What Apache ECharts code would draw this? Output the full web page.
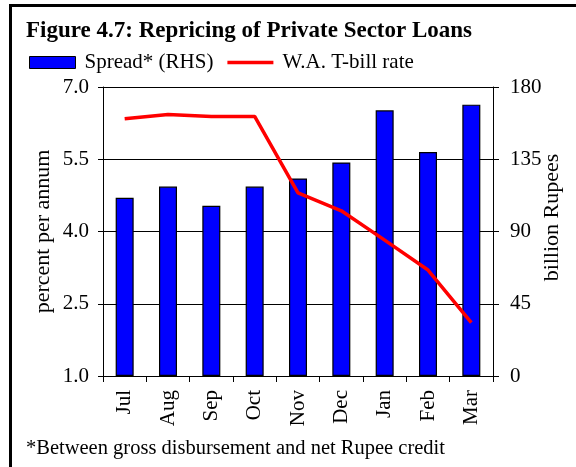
<!DOCTYPE html>
<html>
<head>
<meta charset="utf-8">
<script src="https://cdn.jsdelivr.net/npm/echarts@6/dist/echarts.min.js"></script>
<style>
  html, body { margin: 0; padding: 0; background: #fff; }
  #chart { width: 576px; height: 467px; }
</style>
</head>
<body>
<div id="chart"></div>
<script>
// Months of the fiscal year
const months = ['Jul', 'Aug', 'Sep', 'Oct', 'Nov', 'Dec', 'Jan', 'Feb', 'Mar'];
// Spread between gross disbursement and net Rupee credit (billion Rupees, RHS)
const spread = [111, 118, 106, 118, 123, 133, 165.5, 139.5, 169];
// Weighted average T-bill rate (percent per annum, LHS)
const tbillRate = [6.34, 6.43, 6.39, 6.39, 4.80, 4.43, 3.82, 3.20, 2.11];

const serif = '"Liberation Serif", "Times New Roman", serif';

const chart = echarts.init(document.getElementById('chart'), null, { renderer: 'canvas' });

chart.setOption({
  animation: false,
  backgroundColor: '#fff',
  textStyle: { fontFamily: serif, color: '#000' },
  title: {
    text: 'Figure 4.7: Repricing of Private Sector Loans',
    left: 26,
    top: 20,
    padding: 0,
    textStyle: { fontFamily: serif, fontWeight: 'bold', fontSize: 23, color: '#000' }
  },
  legend: {
    left: 29,
    top: 52,
    padding: 0,
    itemWidth: 46,
    itemHeight: 12,
    itemGap: 14,
    textStyle: { fontFamily: serif, fontSize: 21, color: '#000', padding: [0, 0, 0, 4] },
    data: [
      { name: 'Spread* (RHS)', icon: 'rect',
        itemStyle: { color: '#0000ff', borderColor: '#000', borderWidth: 1 } },
      { name: 'W.A. T-bill rate', icon: 'path://M0,0H50V4H0Z',
        itemStyle: { color: '#ff0000', borderWidth: 0 } }
    ]
  },
  grid: { left: 103, right: 83, top: 87, bottom: 91, containLabel: false, outerBoundsMode: 'none' },
  xAxis: {
    type: 'category',
    data: months,
    boundaryGap: true,
    axisLine: { lineStyle: { color: '#000', width: 1 } },
    axisTick: { show: true, inside: false, length: 6, alignWithLabel: false, lineStyle: { color: '#000' } },
    axisLabel: { rotate: 90, margin: 14, fontFamily: serif, fontSize: 21, color: '#000', interval: 0 }
  },
  yAxis: [
    {
      type: 'value',
      position: 'left',
      min: 1,
      max: 7,
      interval: 1.5,
      name: 'percent per annum',
      nameLocation: 'middle',
      nameRotate: 90,
      nameGap: 49,
      nameMoveOverlap: false,
      nameTextStyle: { fontFamily: serif, fontSize: 22, color: '#000' },
      axisLine: { show: true, lineStyle: { color: '#000', width: 1 } },
      axisTick: { show: true, inside: false, length: 5, lineStyle: { color: '#000' } },
      axisLabel: { margin: 14, fontFamily: serif, fontSize: 21, color: '#000',
                   formatter: v => v.toFixed(1) },
      splitLine: { show: true, lineStyle: { color: '#000', width: 1 } }
    },
    {
      type: 'value',
      position: 'right',
      min: 0,
      max: 180,
      interval: 45,
      name: 'billion Rupees',
      nameLocation: 'middle',
      nameRotate: 90,
      nameGap: 48,
      nameMoveOverlap: false,
      nameTextStyle: { fontFamily: serif, fontSize: 22, color: '#000', padding: [0, 0, 0, 28] },
      axisLine: { show: true, lineStyle: { color: '#000', width: 1 } },
      axisTick: { show: true, inside: false, length: 6, lineStyle: { color: '#000' } },
      axisLabel: { margin: 17, fontFamily: serif, fontSize: 21, color: '#000' },
      splitLine: { show: false }
    }
  ],
  series: [
    {
      name: 'Spread* (RHS)',
      type: 'bar',
      yAxisIndex: 1,
      data: spread,
      barWidth: 18,
      itemStyle: { color: '#0000ff', borderColor: '#000', borderWidth: 1.2 }
    },
    {
      name: 'W.A. T-bill rate',
      type: 'line',
      yAxisIndex: 0,
      data: tbillRate,
      symbol: 'none',
      lineStyle: { color: '#ff0000', width: 3.5 },
      itemStyle: { color: '#ff0000' },
      z: 5
    }
  ],
  graphic: [
    {
      // frame along the left and top edges
      type: 'polyline',
      shape: { points: [[10.5, 467], [10.5, 5.5], [576, 5.5]] },
      style: { stroke: '#000', lineWidth: 3, fill: null },
      silent: true
    },
    {
      type: 'text',
      left: 26,
      top: 438,
      style: {
        text: '*Between gross disbursement and net Rupee credit',
        font: '20.5px ' + serif,
        fill: '#000'
      },
      silent: true
    }
  ]
});
</script>
</body>
</html>
